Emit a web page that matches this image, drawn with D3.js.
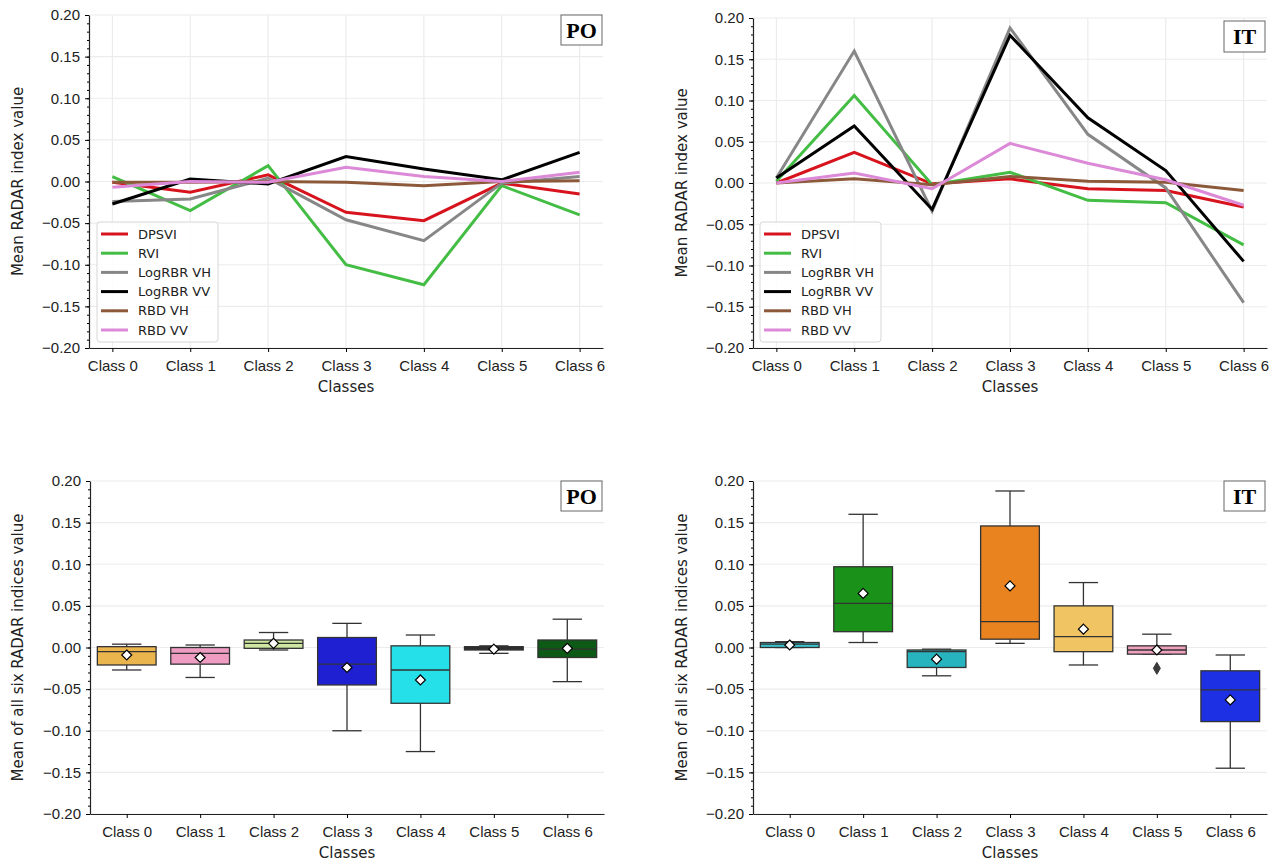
<!DOCTYPE html>
<html>
<head>
<meta charset="utf-8">
<script src="https://cdn.jsdelivr.net/npm/d3@7"></script>
<style>
    body { margin: 0; background: #fff; }
    svg { font-family: "DejaVu Sans", sans-serif; }
</style>
</head>
<body>
<svg id="chart" width="1278" height="861"></svg>
<script>
// Kategorije in oznake
const classes = ["Class 0", "Class 1", "Class 2", "Class 3", "Class 4", "Class 5", "Class 6"];
const indexNames = ["DPSVI", "RVI", "LogRBR VH", "LogRBR VV", "RBD VH", "RBD VV"];
const indexColors = ["#d7141e", "#44bd44", "#878787", "#000000", "#8c5a3a", "#dc8ad8"];
const yTicks = [0.20, 0.15, 0.10, 0.05, 0.00, -0.05, -0.10, -0.15, -0.20];

// PO - povprecne vrednosti indeksov po razredih
const poDPSVI  = [-0.001, -0.013, 0.008, -0.037, -0.047, -0.002, -0.015];
const poRVI    = [0.006, -0.035, 0.019, -0.100, -0.124, -0.005, -0.040];
const poLogVH  = [-0.024, -0.021, 0.004, -0.046, -0.071, -0.002, 0.006];
const poLogVV  = [-0.027, 0.003, -0.003, 0.030, 0.015, 0.002, 0.035];
const poRbdVH  = [-0.001, -0.001, 0.000, -0.001, -0.005, 0.000, 0.001];
const poRbdVV  = [-0.007, 0.000, -0.001, 0.017, 0.006, 0.000, 0.011];

// IT - povprecne vrednosti indeksov po razredih
const itDPSVI  = [0.000, 0.037, -0.001, 0.005, -0.007, -0.009, -0.029];
const itRVI    = [0.002, 0.106, -0.002, 0.013, -0.021, -0.024, -0.075];
const itLogVH  = [0.006, 0.160, -0.034, 0.188, 0.059, -0.006, -0.145];
const itLogVV  = [0.006, 0.069, -0.032, 0.179, 0.079, 0.015, -0.095];
const itRbdVH  = [0.000, 0.005, -0.002, 0.008, 0.002, 0.001, -0.009];
const itRbdVV  = [0.000, 0.012, -0.007, 0.048, 0.024, 0.004, -0.027];

// PO - statistika za skatlaste diagrame
const poWhiskLo = [-0.027, -0.036, -0.003, -0.100, -0.125, -0.007, -0.041];
const poQ1      = [-0.021, -0.020, -0.001, -0.045, -0.067, -0.003, -0.012];
const poMedian  = [-0.005, -0.007, 0.005, -0.020, -0.027, -0.002, -0.002];
const poQ3      = [0.001, 0.000, 0.009, 0.012, 0.002, 0.001, 0.009];
const poWhiskHi = [0.004, 0.003, 0.018, 0.029, 0.015, 0.002, 0.034];
const poMean    = [-0.009, -0.012, 0.005, -0.024, -0.039, -0.002, -0.001];
const poOutliers = [[], [], [], [], [], [], []];
const poBoxColors = ["#ebb54e", "#ee9cc2", "#cde6a0", "#1f20d2", "#25e0e8", "#2a2a2a", "#0c5a16"];

// IT - statistika za skatlaste diagrame
const itWhiskLo = [0.000, 0.006, -0.034, 0.005, -0.021, -0.008, -0.145];
const itQ1      = [0.000, 0.019, -0.024, 0.010, -0.005, -0.008, -0.089];
const itMedian  = [0.004, 0.053, -0.005, 0.031, 0.013, -0.003, -0.051];
const itQ3      = [0.006, 0.097, -0.003, 0.146, 0.050, 0.002, -0.028];
const itWhiskHi = [0.007, 0.160, -0.002, 0.188, 0.078, 0.016, -0.009];
const itMean    = [0.003, 0.065, -0.014, 0.074, 0.022, -0.003, -0.063];
const itOutliers = [[], [], [], [], [], [-0.025], []];
const itBoxColors = ["#3cc2cb", "#1a921a", "#28b4bf", "#e9831f", "#f0c462", "#eea0bd", "#1d30e4"];

const svg = d3.select("#chart");
const fmt = d3.format(".2f");

// Osi, mreza in oznake za en panel
function drawFrame(g, x, y, opts) {
    const [x0, x1] = opts.xRange;
    const [yBot, yTop] = opts.yRange;

    // mreza
    g.append("g").selectAll("line").data(yTicks).join("line")
        .attr("x1", x0).attr("x2", x1)
        .attr("y1", d => y(d)).attr("y2", d => y(d))
        .attr("stroke", "#ececec").attr("stroke-width", 1.2);
    if (opts.vgrid) {
        g.append("g").selectAll("line").data(classes).join("line")
            .attr("x1", d => opts.cx(d)).attr("x2", d => opts.cx(d))
            .attr("y1", yTop).attr("y2", yBot)
            .attr("stroke", "#ececec").attr("stroke-width", 1.2);
    }

    // y os z manjsimi oznakami
    const minor = d3.range(-20, 21).map(v => v / 100);
    g.append("g").attr("transform", `translate(${x0},0)`)
        .call(d3.axisLeft(y).tickValues(minor).tickSize(2).tickSizeOuter(0).tickFormat(""))
        .call(a => a.select(".domain").remove());
    const ya = g.append("g").attr("transform", `translate(${x0},0)`)
        .call(d3.axisLeft(y).tickValues(yTicks).tickSize(4).tickSizeOuter(0).tickPadding(5).tickFormat(fmt));
    ya.selectAll("text").attr("font-size", "15px").attr("fill", "#222");

    // x os
    const xa = g.append("g").attr("transform", `translate(0,${yBot})`)
        .call(d3.axisBottom(opts.xAxisScale).tickSize(4).tickSizeOuter(0).tickPadding(8));
    xa.selectAll("text").attr("font-size", "15px").attr("fill", "#222");
    g.selectAll(".domain").attr("stroke", "#222").attr("stroke-width", 1.2);

    g.append("text")
        .attr("x", (x0 + x1) / 2).attr("y", opts.xLabelY)
        .attr("text-anchor", "middle").attr("font-size", "15px").attr("fill", "#222")
        .text("Classes");

    g.append("text")
        .attr("transform", `translate(${opts.yLabelX},${(yTop + yBot) / 2}) rotate(-90)`)
        .attr("text-anchor", "middle").attr("dy", "0.35em")
        .attr("font-size", "15px").attr("fill", "#222")
        .text(opts.yLabel);

    // oznaka obmocja
    const [bx, by, bw, bh] = opts.tagBox;
    g.append("rect").attr("x", bx).attr("y", by).attr("width", bw).attr("height", bh)
        .attr("fill", "#fff").attr("stroke", "#666").attr("stroke-width", 1);
    g.append("text").attr("x", bx + bw / 2).attr("y", by + bh / 2).attr("dy", "0.36em")
        .attr("text-anchor", "middle")
        .attr("font-family", "'Liberation Serif', 'DejaVu Serif', serif")
        .attr("font-weight", "bold").attr("font-size", "22px")
        .text(opts.tag);
}

// Crtni diagram
function drawLines(series, opts) {
    const g = svg.append("g");
    const x = d3.scalePoint().domain(classes).range(opts.xRange).padding(0.3);
    const y = d3.scaleLinear().domain([-0.2, 0.2]).range(opts.yRange);
    drawFrame(g, x, y, Object.assign({}, opts, { vgrid: true, cx: d => x(d), xAxisScale: x }));

    const line = d3.line().x((d, i) => x(classes[i])).y(d => y(d));
    series.forEach((s, k) => {
        g.append("path").datum(s)
            .attr("d", line)
            .attr("fill", "none")
            .attr("stroke", indexColors[k])
            .attr("stroke-width", 3)
            .attr("stroke-linejoin", "miter");
    });

    // legenda
    const [lx, ly, lw, lh] = opts.legendBox;
    const leg = g.append("g");
    leg.append("rect").attr("x", lx).attr("y", ly).attr("width", lw).attr("height", lh)
        .attr("rx", 3).attr("fill", "#fff").attr("fill-opacity", 0.85)
        .attr("stroke", "#d6d6d6");
    indexNames.forEach((name, k) => {
        const yy = ly + 12 + k * 19.2;
        leg.append("line").attr("x1", lx + 4).attr("x2", lx + 31)
            .attr("y1", yy).attr("y2", yy)
            .attr("stroke", indexColors[k]).attr("stroke-width", 3);
        leg.append("text").attr("x", lx + 41).attr("y", yy).attr("dy", "0.35em")
            .attr("font-size", "13px").attr("fill", "#222").text(name);
    });
}

// Skatlasti diagram
function drawBoxes(stats, colors, opts) {
    const g = svg.append("g");
    const x = d3.scaleBand().domain(classes).range(opts.xRange).padding(0);
    const y = d3.scaleLinear().domain([-0.2, 0.2]).range(opts.yRange);
    const cx = d => x(d) + x.bandwidth() / 2;
    const xAxisScale = d3.scalePoint().domain(classes).range(opts.xRange).padding(0.5);
    drawFrame(g, x, y, Object.assign({}, opts, { vgrid: false, cx: cx, xAxisScale: xAxisScale }));

    const w = x.bandwidth() * 0.8;
    const edge = "#333";
    classes.forEach((c, i) => {
        const xc = cx(c);
        // brki
        g.append("line").attr("x1", xc).attr("x2", xc)
            .attr("y1", y(stats.q3[i])).attr("y2", y(stats.hi[i]))
            .attr("stroke", edge).attr("stroke-width", 1.3);
        g.append("line").attr("x1", xc).attr("x2", xc)
            .attr("y1", y(stats.q1[i])).attr("y2", y(stats.lo[i]))
            .attr("stroke", edge).attr("stroke-width", 1.3);
        [stats.hi[i], stats.lo[i]].forEach(v => {
            g.append("line").attr("x1", xc - w / 4).attr("x2", xc + w / 4)
                .attr("y1", y(v)).attr("y2", y(v))
                .attr("stroke", edge).attr("stroke-width", 1.3);
        });
        // skatla
        g.append("rect")
            .attr("x", xc - w / 2).attr("width", w)
            .attr("y", y(stats.q3[i]))
            .attr("height", Math.max(0.5, y(stats.q1[i]) - y(stats.q3[i])))
            .attr("fill", colors[i]).attr("stroke", edge).attr("stroke-width", 1.3);
        g.append("line").attr("x1", xc - w / 2).attr("x2", xc + w / 2)
            .attr("y1", y(stats.median[i])).attr("y2", y(stats.median[i]))
            .attr("stroke", edge).attr("stroke-width", 1.3);
        // osamelci
        stats.outliers[i].forEach(v => {
            g.append("path")
                .attr("d", `M${xc},${y(v) - 6} L${xc + 3.5},${y(v)} L${xc},${y(v) + 6} L${xc - 3.5},${y(v)} Z`)
                .attr("fill", "#3a3a3a").attr("stroke", "#3a3a3a");
        });
        // povprecje
        const ym = y(stats.mean[i]);
        g.append("path")
            .attr("d", `M${xc},${ym - 5} L${xc + 5},${ym} L${xc},${ym + 5} L${xc - 5},${ym} Z`)
            .attr("fill", "#fff").attr("stroke", "#000").attr("stroke-width", 1.2);
    });
}

drawLines([poDPSVI, poRVI, poLogVH, poLogVV, poRbdVH, poRbdVV], {
    xRange: [89, 603], yRange: [348, 15], xLabelY: 392, yLabelX: 18,
    yLabel: "Mean RADAR index value", tag: "PO", tagBox: [561, 15, 41, 30],
    legendBox: [97, 222, 121, 120]
});
drawLines([itDPSVI, itRVI, itLogVH, itLogVV, itRbdVH, itRbdVV], {
    xRange: [753, 1267], yRange: [348, 18], xLabelY: 392, yLabelX: 682,
    yLabel: "Mean RADAR index value", tag: "IT", tagBox: [1224, 21, 41, 31],
    legendBox: [760, 222, 121, 120]
});
drawBoxes({ lo: poWhiskLo, q1: poQ1, median: poMedian, q3: poQ3, hi: poWhiskHi, mean: poMean, outliers: poOutliers },
    poBoxColors, {
    xRange: [90, 604], yRange: [814, 481], xLabelY: 858, yLabelX: 18,
    yLabel: "Mean of all six RADAR indices value", tag: "PO", tagBox: [561, 481, 41, 30]
});
drawBoxes({ lo: itWhiskLo, q1: itQ1, median: itMedian, q3: itQ3, hi: itWhiskHi, mean: itMean, outliers: itOutliers },
    itBoxColors, {
    xRange: [753, 1267], yRange: [814, 481], xLabelY: 858, yLabelX: 682,
    yLabel: "Mean of all six RADAR indices value", tag: "IT", tagBox: [1224, 481, 41, 30]
});
</script>
</body>
</html>
